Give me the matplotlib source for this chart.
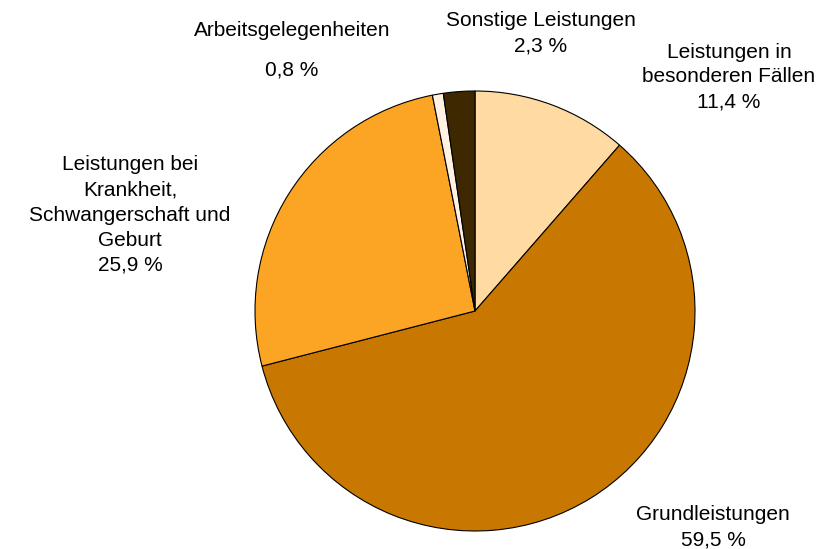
import matplotlib
matplotlib.use("Agg")
import matplotlib.pyplot as plt

W, H = 822, 549

# slices, clockwise from 12 o'clock
labels = ["Leistungen in\nbesonderen Fällen", "Grundleistungen",
          "Leistungen bei\nKrankheit,\nSchwangerschaft und\nGeburt",
          "Arbeitsgelegenheiten", "Sonstige Leistungen"]
shares = [11.4, 59.5, 25.9, 0.8, 2.3]
colors = ["#FFDAA3", "#C87800", "#FCA524", "#FFF2E2", "#3D2800"]

# label anchor (pixel centre of the first text line) and line gap
label_pos = [(729, 52, 25), (713, 515, 25), (130, 165, 25), (292, 31, 39), (541, 20, 26)]

plt.rcParams["font.family"] = ["Liberation Sans", "DejaVu Sans"]
fig = plt.figure(figsize=(W / 100, H / 100), dpi=100)

cx, cy, r = 475, 311, 220
ax = fig.add_axes([(cx - r) / W, (H - cy - r) / H, 2 * r / W, 2 * r / H])
ax.pie(shares, colors=colors, startangle=90, counterclock=False,
       wedgeprops=dict(edgecolor="black", linewidth=0.8))
ax.set_xlim(-1.0, 1.0)
ax.set_ylim(-1.0, 1.0)
ax.set_aspect("equal")
ax.axis("off")

for lab, val, (x, y, gap) in zip(labels, shares, label_pos):
    lines = lab.split("\n") + [f"{val:.1f}".replace(".", ",") + " %"]
    for i, line in enumerate(lines):
        fig.text(x / W, 1 - (y + i * gap) / H, line, ha="center", va="center",
                 fontsize=15)

fig.savefig("out.png", dpi=100)
